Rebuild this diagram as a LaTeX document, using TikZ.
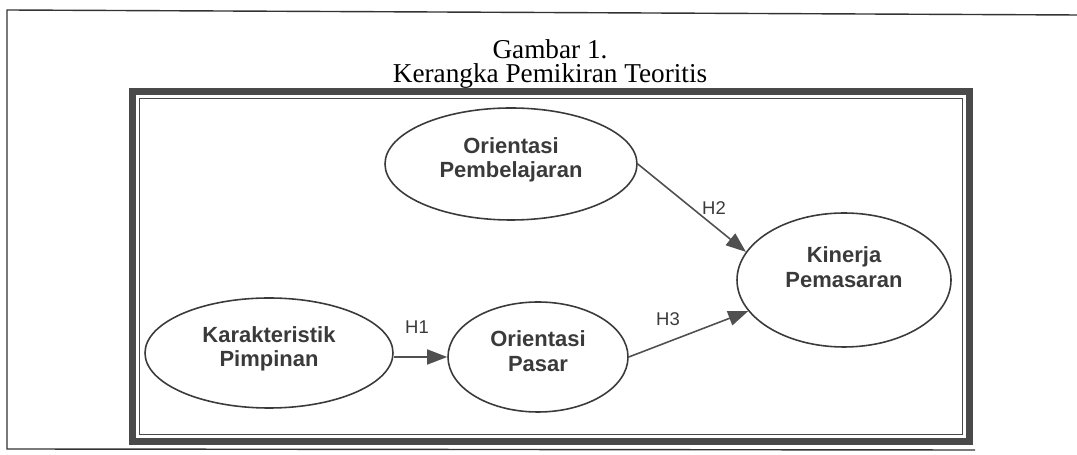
\documentclass[tikz,border=0pt]{standalone}
\usepackage{fontspec}
\setmainfont{Liberation Serif}
\setsansfont{Liberation Sans}
\usepackage{tikz}
\usetikzlibrary{arrows.meta, shapes.geometric}
\definecolor{framegray}{HTML}{4A4A4A}
\definecolor{inkgray}{HTML}{3A3A3A}
\definecolor{arrowgray}{HTML}{505050}
\tikzset{
  variabel/.style={ellipse, draw=inkgray, line width=0.9pt, inner sep=0pt},
  varteks/.style={align=center, text=inkgray, font=\sffamily\bfseries\fontsize{12.5}{14}\selectfont},
  hipotesis/.style={text=inkgray, font=\sffamily\fontsize{10.5}{12}\selectfont},
  panah/.style={draw=arrowgray, line width=0.9pt, -{Triangle[length=0.4cm, width=0.3cm]}}
}

\begin{document}
\begin{tikzpicture}
        \useasboundingbox (0,0) rectangle (21.54,9.10);
        % page frame round the figure
        \draw[line width=0.8pt, black!80] (21.54,8.80) -- (0.14,8.90) -- (0.14,0.12) -- (19.50,0.10);

        % title
        \node[align=center, font=\fontsize{15.5}{14}\selectfont] (judul) at (11.0,7.82) {Gambar 1.\\Kerangka Pemikiran Teoritis};

        % double frame
        \draw[line width=0.14cm, framegray] (2.65,0.27) rectangle (19.39,7.27);
        \draw[line width=0.6pt, framegray] (2.79,0.41) rectangle (19.25,7.13);

        % variables
        \node[variabel, minimum width=5.04cm, minimum height=2.24cm] (ob) at (10.22,5.82) {};
        \node[variabel, minimum width=4.28cm, minimum height=2.68cm] (kp) at (16.88,3.50) {};
        \node[variabel, minimum width=4.96cm, minimum height=2.20cm] (kar) at (5.38,2.04) {};
        \node[variabel, minimum width=3.60cm, minimum height=2.20cm] (op) at (10.76,1.96) {};

        \node[varteks] (obteks) at (10.22,5.90) {Orientasi\\Pembelajaran};
        \node[varteks] (kpteks) at (16.88,3.76) {Kinerja\\Pemasaran};
        \node[varteks] (karteks) at (5.38,2.12) {Karakteristik\\Pimpinan};
        \node[varteks] (opteks) at (10.76,2.08) {Orientasi\\Pasar};

        % hypotheses
        \draw[panah] (op.west -| kar.east) -- (op.west);
        \draw[panah] (ob.east) -- (kp.164);
        \draw[panah] (op.east) -- (kp.198);

        \node[hipotesis] (h1) at (8.34,2.56) {H1};
        \node[hipotesis] (h2) at (14.28,4.94) {H2};
        \node[hipotesis] (h3) at (13.36,2.72) {H3};
\end{tikzpicture}
\end{document}
